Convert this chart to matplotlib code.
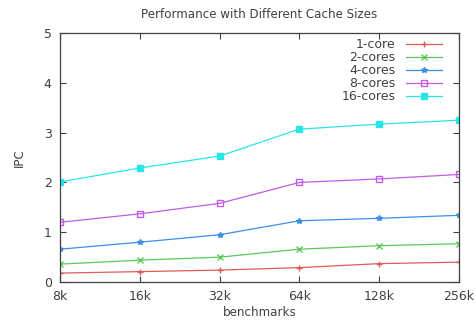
import matplotlib
matplotlib.use("Agg")
import matplotlib.pyplot as plt

categories = ["8k", "16k", "32k", "64k", "128k", "256k"]
series_names = ["1-core", "2-cores", "4-cores", "8-cores", "16-cores"]
core1 = [0.18, 0.21, 0.24, 0.29, 0.37, 0.40]
core2 = [0.36, 0.44, 0.50, 0.66, 0.73, 0.77]
core4 = [0.66, 0.80, 0.95, 1.23, 1.28, 1.34]
core8 = [1.20, 1.37, 1.58, 2.00, 2.07, 2.16]
core16 = [2.01, 2.29, 2.53, 3.07, 3.17, 3.25]
yticks = [0, 1, 2, 3, 4, 5]

values = [core1, core2, core4, core8, core16]
colors = ["#e05a5a", "#5ac85a", "#3c8ee6", "#c05ce6", "#28e6e6"]
markers = ["+", "x", "*", "s", "s"]
fills = ["full", "full", "full", "none", "full"]
msizes = [5, 4, 4, 4.5, 4.5]

plt.rcParams['font.family'] = ['DejaVu Sans']
fig = plt.figure(figsize=(4.76, 3.22), dpi=100)
ax = fig.add_axes([0.126, 0.124, 0.838, 0.7735])
x = list(range(len(categories)))
for name, vals, c, m, f, s in zip(series_names, values, colors, markers, fills, msizes):
    ax.plot(x, vals, color=c, marker=m, fillstyle=f, markersize=s, linewidth=0.9,
            markeredgewidth=1.0, label=name)

ax.set_xlim(0, len(categories) - 1)
ax.set_ylim(0, 5)
ax.set_xticks(x)
ax.set_xticklabels(categories)
ax.set_yticks(yticks)
txtc = "#404040"
ax.tick_params(direction="in", top=True, right=True, labelsize=9, colors=txtc, length=4, width=0.8, pad=6)
for sp in ax.spines.values():
    sp.set_color("#404040")
    sp.set_linewidth(0.9)
ax.set_title("Performance with Different Cache Sizes", fontsize=8.6, color=txtc, pad=11)
ax.set_xlabel("benchmarks", fontsize=8.6, color=txtc, labelpad=2)
ax.set_ylabel("IPC", fontsize=8.6, color=txtc, labelpad=13)
leg = ax.legend(loc="upper right", markerfirst=False, frameon=False, fontsize=9,
                handlelength=2.9, labelspacing=0.0, borderaxespad=0.0,
                bbox_to_anchor=(0.97, 1.0))
for t in leg.get_texts():
    t.set_color(txtc)
fig.savefig("out.png", dpi=100)
